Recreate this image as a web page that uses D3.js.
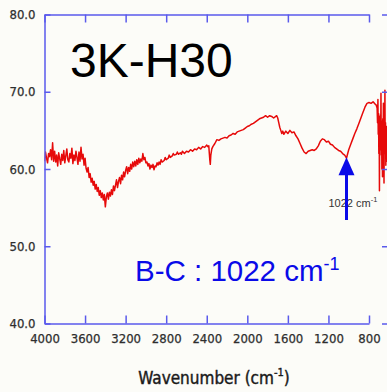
<!DOCTYPE html>
<html>
<head>
<meta charset="utf-8">
<script src="https://cdn.jsdelivr.net/npm/d3@7"></script>
<style>
  html, body { margin: 0; padding: 0; background: #fcfcf8; }
  svg { display: block; }
  .tick text { font-family: "Liberation Sans Narrow", "DejaVu Sans Condensed", "Liberation Sans", sans-serif; fill: #2e2e2e; stroke: #2e2e2e; stroke-width: 0.25; }
</style>
</head>
<body>
<svg id="chart" width="387" height="392"></svg>
<script>
// FTIR transmittance spectrum of sample 3K-H30
const sampleName = "3K-H30";
const bandLabel = "B-C : 1022 cm";
const xTickValues = [4000, 3600, 3200, 2800, 2400, 2000, 1600, 1200, 800];
const yTickValues = [40, 50, 60, 70, 80];

// O-H stretch region (4000-3000 cm-1), noisy
const ohRegion = [
  [4000, 61.0], [3990, 62.2], [3980, 61.4], [3970, 60.8], [3960, 62.0], [3950, 61.6], [3940, 62.5], [3930, 61.2],
  [3920, 63.4], [3910, 61.0], [3900, 62.3], [3890, 60.9], [3880, 61.8], [3870, 60.4], [3860, 62.1], [3850, 61.3],
  [3840, 60.6], [3830, 61.9], [3820, 61.1], [3810, 62.4], [3800, 60.8], [3790, 61.7], [3780, 62.6], [3770, 61.2],
  [3760, 60.9], [3750, 62.0], [3740, 61.4], [3730, 62.7], [3720, 60.7], [3710, 61.8], [3700, 61.1], [3690, 62.3],
  [3680, 61.5], [3670, 60.6], [3660, 62.2], [3650, 61.0], [3640, 62.8], [3630, 61.3], [3620, 61.9], [3610, 60.5],
  [3600, 61.4], [3590, 60.1], [3580, 59.6], [3570, 60.2], [3560, 58.9], [3550, 59.4], [3540, 58.3], [3530, 58.8],
  [3520, 57.9], [3510, 58.4], [3500, 57.4], [3490, 58.0], [3480, 57.1], [3470, 57.6], [3460, 56.6], [3450, 57.2],
  [3440, 56.3], [3430, 56.9], [3420, 56.0], [3410, 56.7], [3400, 55.1], [3390, 56.4], [3380, 56.9], [3370, 56.1],
  [3360, 57.0], [3350, 56.5], [3340, 57.3], [3330, 56.7], [3320, 57.8], [3310, 57.2], [3300, 57.9], [3290, 58.6],
  [3280, 57.6], [3270, 58.4], [3260, 58.9], [3250, 58.1], [3240, 59.2], [3230, 58.6], [3220, 59.6], [3210, 59.0],
  [3200, 59.8], [3190, 60.3], [3180, 59.4], [3170, 60.2], [3160, 59.7], [3150, 60.6], [3140, 60.0], [3130, 60.9],
  [3120, 60.3], [3110, 61.0], [3100, 60.4], [3090, 61.2], [3080, 60.6], [3070, 61.4], [3060, 60.8], [3050, 61.3],
  [3040, 61.0], [3030, 62.0], [3020, 61.2], [3010, 61.5], [3000, 60.8]
];

// Mid-infrared region (3000-2000 cm-1), including the CO2 dip near 2360
const midRegion = [
  [2990, 60.9], [2980, 60.4], [2970, 60.7], [2960, 60.0], [2950, 60.5], [2940, 60.2], [2930, 60.6], [2920, 59.9],
  [2910, 60.4], [2900, 60.3], [2890, 60.8], [2880, 60.5], [2870, 60.9], [2860, 60.6], [2850, 61.2], [2840, 60.9],
  [2820, 61.1], [2810, 61.5], [2800, 61.2], [2780, 61.4], [2770, 61.8], [2760, 61.5], [2740, 61.7], [2730, 62.0],
  [2720, 61.8], [2700, 61.9], [2690, 62.2], [2680, 61.9], [2660, 62.1], [2650, 61.9], [2640, 62.3], [2620, 62.0],
  [2600, 62.3], [2580, 62.2], [2560, 62.5], [2540, 62.3], [2520, 62.6],
  [2500, 62.5], [2480, 62.8], [2460, 62.6], [2440, 62.9], [2420, 62.8], [2400, 63.1], [2390, 62.9], [2380, 63.0],
  [2370, 61.2], [2365, 60.6], [2360, 61.8], [2350, 62.6], [2340, 62.9], [2320, 63.3], [2300, 63.8], [2280, 63.7],
  [2260, 63.9], [2240, 64.0], [2220, 64.1], [2200, 64.0], [2180, 64.3], [2160, 64.4], [2140, 64.6], [2120, 64.5],
  [2100, 64.8], [2080, 64.9], [2060, 65.0], [2040, 65.1], [2020, 65.3]
];

// Fingerprint region (2000-720 cm-1), B-C band at 1022
const fingerprint = [
  [2000, 65.5], [1980, 65.6], [1960, 65.8], [1940, 65.9], [1920, 66.1], [1900, 66.3], [1880, 66.5], [1860, 66.6],
  [1840, 66.7], [1820, 66.9], [1800, 66.7], [1780, 66.9], [1760, 66.8], [1740, 66.6], [1720, 66.8], [1710, 66.9],
  [1700, 66.6], [1690, 66.0], [1680, 65.4], [1670, 65.0], [1660, 64.6], [1650, 64.9], [1640, 64.5], [1620, 64.9],
  [1600, 64.6], [1580, 65.0], [1560, 64.7], [1540, 64.8], [1520, 64.3], [1500, 63.9], [1480, 63.3], [1460, 62.7],
  [1440, 62.2], [1420, 62.0], [1400, 62.3], [1380, 62.4], [1360, 62.5], [1340, 62.4], [1320, 62.6], [1300, 63.0],
  [1280, 63.6], [1260, 63.9], [1240, 63.8], [1220, 63.5], [1200, 63.6], [1180, 63.2], [1160, 63.1], [1140, 62.8],
  [1120, 62.6], [1100, 62.4], [1080, 62.3], [1060, 62.0], [1040, 61.8], [1030, 61.6], [1022, 61.4], [1010, 62.0],
  [1000, 62.5], [980, 63.2], [960, 63.9], [940, 64.6], [920, 65.2], [900, 65.9], [880, 66.6], [860, 67.3],
  [840, 68.0], [820, 68.5], [800, 68.6], [780, 68.5], [760, 68.7], [740, 68.4], [730, 68.3], [720, 67.9]
];

// Low-wavenumber edge (below 720 cm-1), detector noise
const lowEdge = [
  [716, 66.0], [712, 69.0], [709, 64.5], [706, 67.2], [703, 62.0], [700, 66.8], [697, 57.2], [694, 65.5],
  [691, 61.8], [688, 67.0], [685, 63.0], [682, 69.8], [679, 62.5], [676, 66.2], [673, 60.0], [670, 64.8],
  [667, 59.0], [664, 66.5], [661, 61.5], [658, 68.5], [655, 62.8], [652, 58.2], [649, 65.0], [646, 63.5],
  [643, 70.2], [640, 62.0], [637, 66.0], [634, 60.5], [631, 64.0], [628, 61.0], [625, 65.5], [622, 62.5]
];

// B-C band marker
const bandMarker = { wavenumber: 1022, tip: 61.4, tail: 53.4 };

const spectrum = [...ohRegion, ...midRegion, ...fingerprint, ...lowEdge];

const svg = d3.select("#chart");
const axisColor = "#5a5aec";
const plot = { left: 44.5, top: 14.5, bottom: 323.5, right: 388 };

const x = d3.scaleLinear().domain([4000, 800]).range([plot.left, 369]);
const y = d3.scaleLinear().domain([40, 80]).range([plot.bottom, plot.top]);

svg.append("defs").append("clipPath").attr("id", "plot")
  .append("rect").attr("x", plot.left).attr("y", plot.top)
  .attr("width", plot.right - plot.left).attr("height", plot.bottom - plot.top);

// spectrum trace
const line = d3.line().x(d => x(d[0])).y(d => y(d[1]));
svg.append("path")
  .datum(spectrum)
  .attr("clip-path", "url(#plot)")
  .attr("d", line)
  .attr("fill", "none")
  .attr("stroke", "#e60a0a")
  .attr("stroke-width", 1.5)
  .attr("stroke-linejoin", "round");

// axes
function styleAxis(g) {
  g.selectAll("path, line").attr("stroke", axisColor).attr("stroke-width", 1.5);
}
svg.append("g").attr("transform", `translate(0,${plot.bottom})`)
  .call(d3.axisBottom(x).tickValues(xTickValues).tickFormat(d3.format("d")).tickSize(-8).tickSizeOuter(0).tickPadding(10))
  .call(styleAxis)
  .call(g => g.selectAll(".tick text").attr("font-size", 13));
svg.append("g").attr("transform", `translate(0,${plot.top})`)
  .call(d3.axisTop(x).tickValues(xTickValues).tickFormat("").tickSize(-8).tickSizeOuter(0))
  .call(styleAxis);
svg.append("g").attr("transform", `translate(${plot.left},0)`)
  .call(d3.axisLeft(y).tickValues(yTickValues).tickFormat(d3.format(".1f")).tickSize(-6).tickSizeOuter(0).tickPadding(9))
  .call(styleAxis)
  .call(g => g.selectAll(".tick text").attr("font-size", 13));
svg.append("g").attr("transform", `translate(${plot.right},0)`)
  .call(d3.axisRight(y).tickValues(yTickValues).tickFormat("").tickSize(-6).tickSizeOuter(0))
  .call(styleAxis);

// sample name
svg.append("text")
  .attr("x", 70).attr("y", 77)
  .attr("font-family", "Liberation Sans, Arial, sans-serif")
  .attr("font-size", 48)
  .attr("fill", "#000")
  .text(sampleName);

// band assignment
const band = svg.append("text")
  .attr("x", 135).attr("y", 281)
  .attr("font-family", "Liberation Sans, Arial, sans-serif")
  .attr("font-size", 29.5)
  .attr("fill", "#0a0ae8");
band.append("tspan").text(bandLabel);
band.append("tspan").attr("font-size", 18).attr("dy", -11).text("-1");

// marker label
const ax = x(bandMarker.wavenumber);
const ml = svg.append("text")
  .attr("x", ax - 18).attr("y", 207)
  .attr("font-family", "Liberation Sans, Arial, sans-serif")
  .attr("font-size", 11)
  .attr("fill", "#333");
ml.append("tspan").text("1022 cm");
ml.append("tspan").attr("font-size", 7.5).attr("dy", -5).text("-1");

// marker arrow
const tipY = y(bandMarker.tip);
svg.append("line")
  .attr("x1", ax).attr("x2", ax)
  .attr("y1", y(bandMarker.tail)).attr("y2", tipY + 14)
  .attr("stroke", "#0a0ae8").attr("stroke-width", 3);
svg.append("path")
  .attr("d", `M${ax},${tipY - 1}L${ax - 8},${tipY + 17}L${ax + 8},${tipY + 17}Z`)
  .attr("fill", "#0a0ae8");

// axis title
const xt = svg.append("text")
  .attr("x", 214).attr("y", 384)
  .attr("text-anchor", "middle")
  .attr("font-family", "Liberation Sans Narrow, DejaVu Sans Condensed, sans-serif")
  .attr("font-size", 17)
  .attr("fill", "#1a1a1a")
  .attr("stroke", "#1a1a1a")
  .attr("stroke-width", 0.4);
xt.append("tspan").text("Wavenumber (cm");
xt.append("tspan").attr("font-size", 11).attr("dy", -8).text("-1");
xt.append("tspan").attr("dy", 8).text(")");
</script>
</body>
</html>
